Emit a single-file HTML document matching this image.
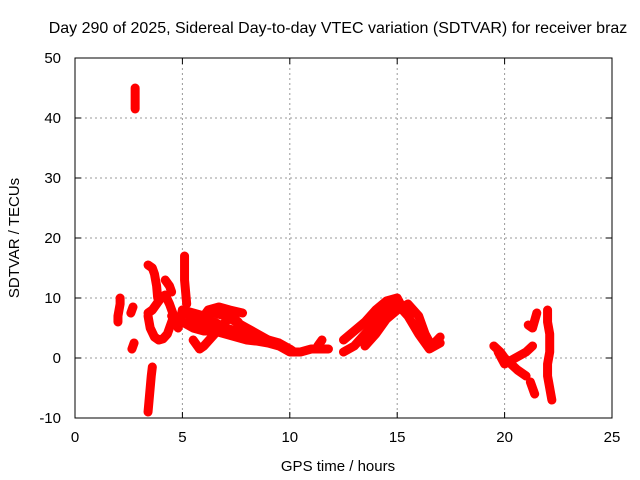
<!DOCTYPE html>
<html><head><meta charset="utf-8"><style>
body{margin:0;background:#fff}
svg{display:block;font-family:"Liberation Sans",sans-serif;font-size:15px}
</style></head><body>
<svg id="c" width="640" height="480">
<text x="338" y="33" text-anchor="middle" font-size="16">Day 290 of 2025, Sidereal Day-to-day VTEC variation (SDTVAR) for receiver braz</text>
<text transform="translate(19,238) rotate(-90)" text-anchor="middle">SDTVAR / TECUs</text>
<text x="338" y="471" text-anchor="middle">GPS time / hours</text>
<g id="grid"></g><g id="marks"></g>
<rect x="75" y="58" width="537" height="360" fill="none" stroke="#000"/>
</svg>
<script>
const xTicks=[0,5,10,15,20,25];
const yTicks=[-10,0,10,20,30,40,50];
const tracks=[
[[3.4,7],[3.5,5],[3.7,3.5],[3.9,3],[4.1,3.2],[4.3,4],[4.5,6],[4.6,7],[4.4,9],[4.2,10.5],[4.0,10],[3.8,9],[3.6,8],[3.4,7.5]],
[[4.5,7],[5,6],[5.5,5],[6,4.5],[6.5,4.5],[7,4],[7.5,3.5],[8,3],[8.5,2.8],[9,2.5],[9.5,2],[10,1],[10.5,1],[11,1.5],[11.5,1.5],[11.8,1.5]],
[[5,8],[5.5,7.5],[6,7],[6.5,7.5],[7,7],[7.5,6],[8,5],[8.5,4],[9,3],[9.5,2.5],[10,1.5],[10.2,1]],
[[5.5,3],[5.8,1.5],[6,2],[6.5,4],[7,6],[7.3,7],[7.6,6],[7.9,4],[8.2,3],[8.5,3]],
[[5.8,6],[6.2,8],[6.7,8.5],[7.2,8],[7.8,7.5]],
[[6.0,5.5],[6.5,6],[7,5],[7.5,4.5],[8,4],[8.5,3.5],[9,3]],
[[4.8,5],[4.9,6.5],[5,8],[5.3,7],[5.6,6]],
[[5.1,17],[5.1,15],[5.1,13],[5.15,11],[5.2,9]],
[[3.4,15.5],[3.6,15],[3.7,14],[3.8,12],[3.85,10]],
[[4.2,13],[4.4,12],[4.5,11]],
[[3.6,-1.5],[3.55,-3],[3.5,-5],[3.45,-7],[3.4,-9]],
[[2.0,6],[2.0,7],[2.05,8],[2.1,9],[2.1,10]],
[[2.6,7.5],[2.7,8.5]],
[[2.65,1.5],[2.75,2.5]],
[[2.8,41.5],[2.8,43],[2.8,44],[2.8,45]],
[[12.5,1],[13,2],[13.5,4],[14,6],[14.5,8],[15,9],[15.5,7],[16,4],[16.5,1.5],[17,2.5]],
[[12.5,3],[13,4.5],[13.5,6],[14,8],[14.5,9.5],[15,10],[15.3,8]],
[[13.5,2],[14,4],[14.5,6.5],[15,8],[15.5,9],[16,7],[16.3,4],[16.6,2],[17,3.5]],
[[11.3,2],[11.5,3]],
[[19.5,2],[19.8,1],[20,0],[20.3,-1],[20.6,-2],[21,-3]],
[[19.7,1],[20,-1],[20.5,0],[21,1],[21.3,2]],
[[21.1,5.5],[21.3,5],[21.5,7.5]],
[[21.2,-4],[21.3,-5],[21.4,-6]],
[[22,8],[22,6],[22.1,4],[22.1,1],[22,-1],[22,-3],[22.1,-5],[22.2,-7]]
];
const X=v=>75+v*537/25, Y=v=>418-(v+10)*6;
const NS="http://www.w3.org/2000/svg";
const g=document.getElementById('grid'), m=document.getElementById('marks');
function mk(t,a,p){const e=document.createElementNS(NS,t);for(const k in a)e.setAttribute(k,a[k]);p.appendChild(e);return e;}
xTicks.forEach(t=>{
 const l=mk('line',{x1:X(t),x2:X(t),y1:58,y2:418,stroke:'#999','stroke-dasharray':'2,3'},g);
 
 
 mk('line',{x1:X(t),x2:X(t),y1:418,y2:412,stroke:'#000'},g);
 mk('line',{x1:X(t),x2:X(t),y1:58,y2:64,stroke:'#000'},g);
 const s=mk('text',{x:X(t),y:442,'text-anchor':'middle'},g);s.textContent=t;
 
 
});
yTicks.forEach(t=>{
 const l=mk('line',{x1:75,x2:612,y1:Y(t),y2:Y(t),stroke:'#999','stroke-dasharray':'2,3'},g);
 
 
 mk('line',{x1:75,x2:81,y1:Y(t),y2:Y(t),stroke:'#000'},g);
 mk('line',{x1:612,x2:606,y1:Y(t),y2:Y(t),stroke:'#000'},g);
 const s=mk('text',{x:61,y:Y(t)+5,'text-anchor':'end'},g);s.textContent=t;
 
 
});
tracks.forEach(tr=>{
 const pl=mk('polyline',{points:tr.map(p=>X(p[0])+','+Y(p[1])).join(' '),fill:'none',stroke:'#f00','stroke-width':9,'stroke-linejoin':'round','stroke-linecap':'round'},m);
 
 
 tr.forEach(p=>{
  const x=X(p[0]),y=Y(p[1]);
  const c=mk('path',{d:`M${x-4},${y}H${x+4}M${x},${y-4}V${y+4}`,stroke:'#f00','stroke-width':1.5},m);
  
  
 });
});
</script>
</body></html>
